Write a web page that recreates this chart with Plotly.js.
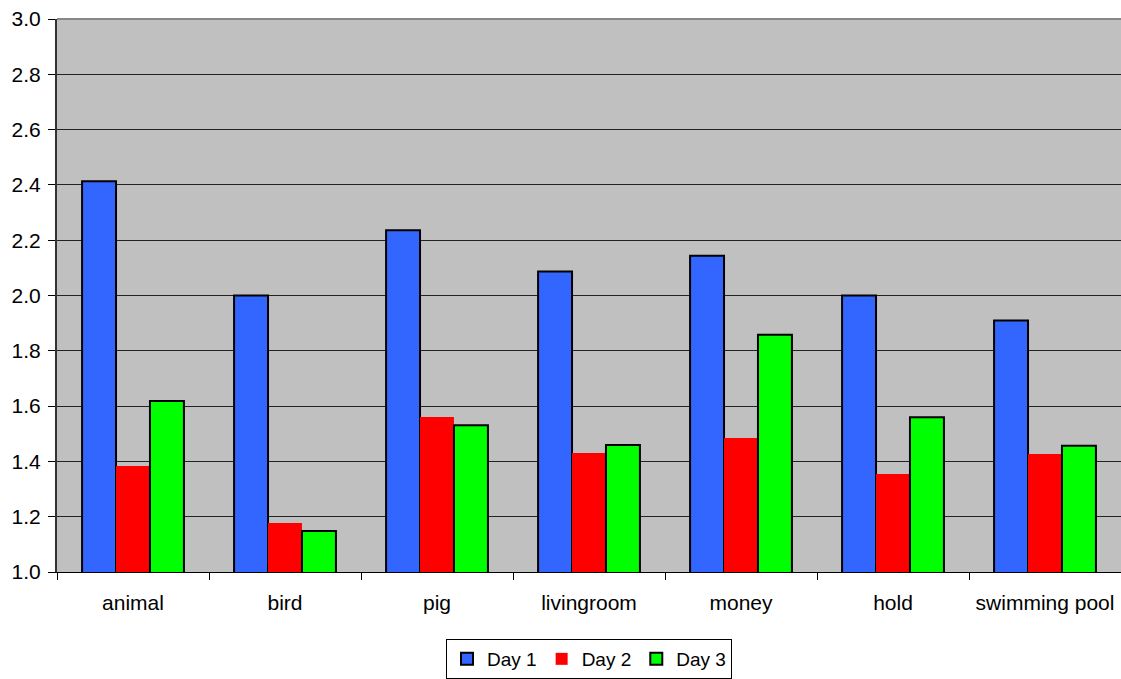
<!DOCTYPE html>
<html>
<head>
<meta charset="utf-8">
<script src="https://cdn.plot.ly/plotly-3.0.1.min.js"></script>
<style>html,body{margin:0;padding:0;background:#fff;}#chart{width:1121px;height:679px;}</style>
</head>
<body>
<div id="chart"></div>
<script>
const categories = ["animal", "bird", "pig", "livingroom", "money", "hold", "swimming pool"];
const day1 = [2.413, 2.0, 2.236, 2.087, 2.144, 2.0, 1.910];
const day2 = [1.383, 1.177, 1.561, 1.430, 1.485, 1.354, 1.427];
const day3 = [1.618, 1.148, 1.531, 1.459, 1.858, 1.560, 1.457];
const yTicks = [1.0, 1.2, 1.4, 1.6, 1.8, 2.0, 2.2, 2.4, 2.6, 2.8, 3.0];

const fam = "Liberation Sans, Arial, sans-serif";
const font = {family: fam, size: 21, color: "#000"};

const traces = [
  {type: "bar", name: "Day 1", x: categories, y: day1,
   marker: {color: "#3366FF", line: {color: "#000", width: 2}}},
  {type: "bar", name: "Day 2", x: categories, y: day2,
   marker: {color: "#FF0000", line: {color: "#FF0000", width: 0}}},
  {type: "bar", name: "Day 3", x: categories, y: day3,
   marker: {color: "#00FF00", line: {color: "#000", width: 2}}}
];

const layout = {
  width: 1121, height: 679,
  margin: {l: 57, r: 0, t: 19, b: 107, pad: 0},
  paper_bgcolor: "#FFFFFF",
  plot_bgcolor: "#C0C0C0",
  font: font,
  barmode: "group",
  bargap: 0.33,
  bargroupgap: 0,
  showlegend: true,
  legend: {
    orientation: "h", x: 0.5, xanchor: "center", y: -0.122, yanchor: "top",
    bgcolor: "#FFFFFF", bordercolor: "#000", borderwidth: 1,
    font: {family: fam, size: 19, color: "#000"},
    itemclick: false, traceorder: "normal", itemwidth: 30
  },
  xaxis: {
    type: "category",
    tickson: "boundaries",
    ticks: "outside", ticklen: 7, tickcolor: "#000", tickwidth: 1,
    ticklabelstandoff: 12,
    showline: true, linecolor: "#000", linewidth: 1,
    showgrid: false, zeroline: false,
    tickfont: font
  },
  yaxis: {
    range: [1.0, 3.0],
    tickvals: yTicks,
    ticktext: yTicks.map(v => v.toFixed(1)),
    ticks: "outside", ticklen: 7, tickcolor: "#000", tickwidth: 1,
    ticklabelstandoff: 3,
    showline: true, linecolor: "#333", linewidth: 2,
    showgrid: true, gridcolor: "#222", gridwidth: 1,
    zeroline: false,
    tickfont: font
  },
  shapes: [
    {type: "line", xref: "paper", yref: "paper", x0: 0, x1: 1, y0: 1, y1: 1,
     line: {color: "#888888", width: 2}}
  ]
};

Plotly.newPlot("chart", traces, layout, {displayModeBar: false, staticPlot: true});
</script>
</body>
</html>
